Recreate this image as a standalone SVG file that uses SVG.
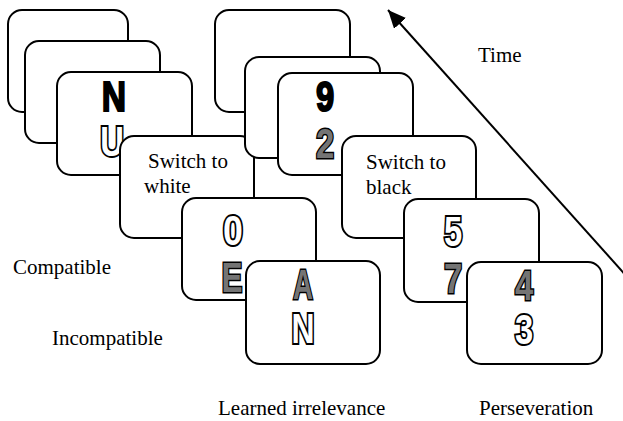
<svg xmlns="http://www.w3.org/2000/svg" width="623" height="421" viewBox="0 0 623 421">
<style>
.card{fill:#fff;stroke:#000;stroke-width:2}
.lbl{font-family:"Liberation Serif","Times New Roman",serif;font-size:21px;fill:#000}
.ch{font-family:"Liberation Sans",Arial,sans-serif;font-weight:bold;font-size:42px;text-anchor:middle}
.blk{fill:#000;stroke:#000;stroke-width:2}
.gry{fill:#747474;stroke:#000;stroke-width:3;paint-order:stroke}
.wht{fill:#fff;stroke:#000;stroke-width:4;paint-order:stroke}
</style>
<defs>
<marker id="ah" markerUnits="userSpaceOnUse" markerWidth="20" markerHeight="20" refX="18" refY="8" orient="auto">
<polygon points="0,0 18,8 0,16" fill="#000"/>
</marker>
</defs>
<rect width="623" height="421" fill="#fff"/>
<g id="L1"><rect class="card" x="8" y="10" width="120" height="102" rx="14"/></g>
<g id="L2"><rect class="card" x="25" y="41" width="135" height="102" rx="14"/></g>
<g id="L3"><rect class="card" x="57" y="72" width="135" height="103" rx="14"/>
<text class="ch blk" transform="translate(114,111) scale(0.8,1)">N</text>
<text class="ch wht" transform="translate(112,156) scale(0.78,1)">U</text></g>
<g id="L4"><rect class="card" x="120" y="136" width="134" height="102" rx="14"/>
<text class="lbl" x="148" y="168">Switch to</text>
<text class="lbl" x="144" y="193">white</text></g>
<g id="R1"><rect class="card" x="215" y="10" width="135" height="102" rx="14"/></g>
<g id="R2"><rect class="card" x="245" y="57" width="135" height="101" rx="14"/></g>
<g id="R3"><rect class="card" x="278" y="73" width="135" height="102" rx="14"/>
<text class="ch blk" transform="translate(325,111) scale(0.78,1)">9</text>
<text class="ch gry" transform="translate(325,158) scale(0.78,1)">2</text></g>
<g id="R4"><rect class="card" x="342" y="136" width="134" height="102" rx="14"/>
<text class="lbl" x="366" y="169">Switch to</text>
<text class="lbl" x="366" y="194">black</text></g>
<g id="L5"><rect class="card" x="182" y="198" width="134" height="102" rx="14"/>
<text class="ch wht" transform="translate(233,245) scale(0.85,1)">0</text>
<text class="ch gry" transform="translate(232,292) scale(0.75,1)">E</text></g>
<g id="L6"><rect class="card" x="246" y="261" width="134" height="103" rx="14"/>
<text class="ch gry" transform="translate(303,299) scale(0.66,1)">A</text>
<text class="ch wht" transform="translate(303,343) scale(0.76,1)">N</text></g>
<g id="R5"><rect class="card" x="404" y="199" width="135" height="103" rx="14"/>
<text class="ch wht" transform="translate(453,246) scale(0.78,1)">5</text>
<text class="ch gry" transform="translate(453,293) scale(0.78,1)">7</text></g>
<g id="R6"><rect class="card" x="467" y="262" width="135" height="102" rx="14"/>
<text class="ch gry" transform="translate(524,300) scale(0.78,1)">4</text>
<text class="ch wht" transform="translate(524,344) scale(0.78,1)">3</text></g>
<g id="connectors">
<line x1="630" y1="280" x2="388" y2="10" stroke="#000" stroke-width="2" marker-end="url(#ah)"/>
</g>
<g id="labels">
<text class="lbl" x="478" y="62">Time</text>
<text class="lbl" x="13" y="274">Compatible</text>
<text class="lbl" x="52" y="345">Incompatible</text>
<text class="lbl" x="218" y="415">Learned irrelevance</text>
<text class="lbl" x="479" y="415">Perseveration</text>
</g>
</svg>
